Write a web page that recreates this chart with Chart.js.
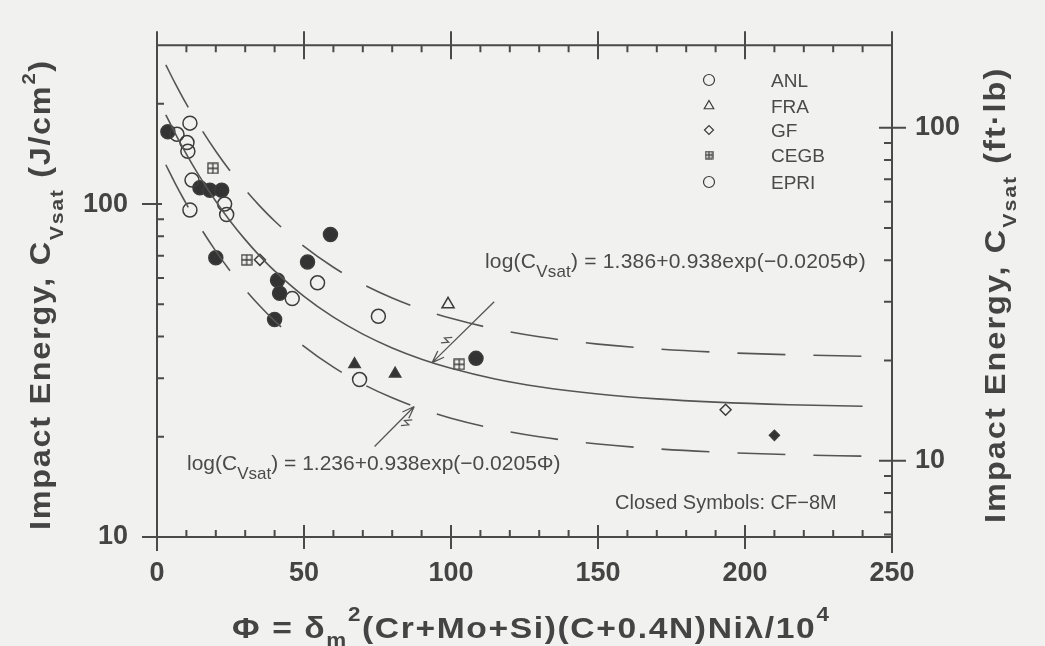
<!DOCTYPE html>
<html lang="en">
<head>
<meta charset="UTF-8">
<title>Saturation impact energy vs aging parameter</title>
<script src="https://cdn.jsdelivr.net/npm/chart.js"></script>
<style>
  body { margin: 0; background: #f1f1ef; }
  canvas { display: block; }
</style>
</head>
<body>
<canvas id="cvChart" width="1045" height="646"></canvas>
<script>
// saturation impact energy Cvsat (J/cm2) against Phi, one array per source / symbol
const anlOpen    = [[6.8,162],[11.2,175],[10.2,153],[10.5,144],[11.9,118],[11.2,96],[23,100],[23.7,93],[46,52]];
const epriOpen   = [[54.6,58],[75.3,46],[68.9,29.7]];
const cf8mClosed = [[3.7,165],[14.6,112],[18,110],[22,110],[20,69],[41,59],[41.7,54],[40,45],[51.2,67],[59,81],[108.5,34.4]];
const fraOpen    = [[99,50]];
const fraClosed  = [[67.2,33],[81,30.9]];
const gfOpen     = [[35,68],[193.4,24.1]];
const gfClosed   = [[210,20.2]];
const cegbPts    = [[19,128],[30.5,68],[102.8,33]];

// log(Cvsat) = a + 0.938 exp(-0.0205 Phi); a = upper bound, mean, lower bound
const fitA = [1.536, 1.386, 1.236];
const fitB = 0.938;
const fitK = 0.0205;
const phiSteps = [3,6,9,12,15,20,25,30,35,40,50,60,70,80,90,100,115,130,150,170,190,215,240];

const xTicks = [0, 50, 100, 150, 200, 250];
const xMinor = [10,20,30,40,60,70,80,90,110,120,130,140,160,170,180,190,210,220,230,240];
const yTicks = [10, 100];
const yMinor = [20,30,40,50,60,70,80,90,200];
const ftlbTicks = [10, 100];
const ftlbMinor = [6,7,8,9,20,30,40,50,60,70,80,90];
const JCM2_PER_FTLB = 1.3558 / 0.8;

const legendNames = ['ANL', 'FRA', 'GF', 'CEGB', 'EPRI'];

const FONT = '"Liberation Sans", Arial, sans-serif';
const INK = '#3c3c3c';
const TXT = '#4a4a4a';
const BG = '#f1f1ef';

const fitY = (a, phi) => Math.pow(10, a + fitB * Math.exp(-fitK * phi));
const pts = arr => arr.map(([x, y]) => ({x, y}));

// square with a cross for the CEGB points
function cegbSymbol(size) {
  const c = document.createElement('canvas');
  c.width = size; c.height = size;
  const g = c.getContext('2d');
  g.strokeStyle = INK; g.lineWidth = 1.3;
  g.strokeRect(1, 1, size - 2, size - 2);
  g.beginPath();
  g.moveTo(size / 2, 1); g.lineTo(size / 2, size - 1);
  g.moveTo(1, size / 2); g.lineTo(size - 1, size / 2);
  g.stroke();
  return c;
}
const cegbBig = cegbSymbol(12);
const cegbSmall = cegbSymbol(9);

function markerSet(data, style, r, filled) {
  return {
    data: pts(data), pointStyle: style, pointRadius: r,
    borderColor: INK, borderWidth: 1.5,
    backgroundColor: filled ? '#333' : 'rgba(0,0,0,0)',
    showLine: false
  };
}

function fitSet(a, dashed) {
  return {
    data: phiSteps.map(p => ({x: p, y: fitY(a, p)})),
    showLine: true, pointRadius: 0, borderColor: '#555', borderWidth: 1.6,
    borderDash: dashed ? [48, 28] : [], tension: 0.3, cubicInterpolationMode: 'monotone'
  };
}

// rich text: runs with their own size and baseline shift (sub/superscripts),
// optionally stretched along the baseline for the wide title lettering
function rich(ctx, parts, x, y, spacing, stretch) {
  ctx.save();
  ctx.translate(x, y);
  ctx.scale(stretch || 1, 1);
  let cx = 0;
  for (const p of parts) {
    ctx.font = `${p.w || 'normal'} ${p.s}px ${FONT}`;
    ctx.letterSpacing = (p.ls != null ? p.ls : spacing) + 'px';
    ctx.fillText(p.t, cx, p.dy || 0);
    cx += ctx.measureText(p.t).width;
  }
  ctx.restore();
}

function arrow(ctx, x1, y1, x2, y2) {
  const ang = Math.atan2(y2 - y1, x2 - x1);
  ctx.beginPath();
  ctx.moveTo(x1, y1); ctx.lineTo(x2, y2);
  for (const d of [0.35, -0.35]) {
    ctx.moveTo(x2, y2);
    ctx.lineTo(x2 - 13 * Math.cos(ang + d), y2 - 13 * Math.sin(ang + d));
  }
  // small break mark beside the shaft
  const mx = x2 + (x1 - x2) * 0.3, my = y2 + (y1 - y2) * 0.3;
  const nx = -Math.sin(ang), ny = Math.cos(ang);
  const ux = Math.cos(ang), uy = Math.sin(ang);
  ctx.moveTo(mx + nx * 4 - ux * 6, my + ny * 4 - uy * 6);
  ctx.lineTo(mx + nx * 9, my + ny * 9);
  ctx.lineTo(mx + nx * 3, my + ny * 3);
  ctx.lineTo(mx + nx * 8 + ux * 6, my + ny * 8 + uy * 6);
  ctx.stroke();
}

// arrows from the equation labels to the curves they describe
const arrowNotes = [
  {from: [114.7, 50.9], phi: 93.6, fit: 1},
  {from: [74, 18.7], phi: 87.5, fit: 2}
];

const decor = {
  id: 'decor',
  beforeDraw(chart) {
    const ctx = chart.ctx;
    ctx.save();
    ctx.fillStyle = BG;
    ctx.fillRect(0, 0, chart.width, chart.height);
    ctx.restore();
  },
  afterDraw(chart) {
    const ctx = chart.ctx;
    const {x, y, y2} = chart.scales;
    const {left, right, top, bottom} = chart.chartArea;
    ctx.save();
    ctx.strokeStyle = '#4a4a4a';
    ctx.lineWidth = 2;
    ctx.lineCap = 'butt';
    ctx.beginPath();
    // frame, side axes run a little past top and bottom
    ctx.moveTo(left, top - 14); ctx.lineTo(left, bottom + 14);
    ctx.moveTo(right, top - 14); ctx.lineTo(right, bottom + 16);
    ctx.moveTo(left, top); ctx.lineTo(right, top);
    ctx.moveTo(left, bottom); ctx.lineTo(right, bottom);
    // x ticks, bottom and top
    for (const v of xMinor) {
      const px = x.getPixelForValue(v);
      ctx.moveTo(px, bottom); ctx.lineTo(px, bottom - 7);
      ctx.moveTo(px, top); ctx.lineTo(px, top + 7);
    }
    for (const v of xTicks) {
      const px = x.getPixelForValue(v);
      ctx.moveTo(px, bottom - 12); ctx.lineTo(px, bottom + 12);
      ctx.moveTo(px, top - 14); ctx.lineTo(px, top + 14);
    }
    // left axis
    for (const v of yMinor) {
      const py = y.getPixelForValue(v);
      ctx.moveTo(left, py); ctx.lineTo(left + 7, py);
    }
    for (const v of yTicks) {
      const py = y.getPixelForValue(v);
      ctx.moveTo(left - 15, py); ctx.lineTo(left + 5, py);
    }
    // right axis in ft-lb
    for (const v of ftlbMinor) {
      const py = y2.getPixelForValue(v);
      ctx.moveTo(right, py); ctx.lineTo(right - 8, py);
    }
    for (const v of ftlbTicks) {
      const py = y2.getPixelForValue(v);
      ctx.moveTo(right - 13, py); ctx.lineTo(right + 14, py);
    }
    ctx.stroke();

    // arrows
    ctx.lineWidth = 1.3;
    ctx.strokeStyle = '#555';
    for (const n of arrowNotes) {
      arrow(ctx, x.getPixelForValue(n.from[0]), y.getPixelForValue(n.from[1]),
        x.getPixelForValue(n.phi), y.getPixelForValue(fitY(fitA[n.fit], n.phi)));
    }

    // legend, open symbols
    const rows = [80, 106, 130, 155, 182];
    const lx = 709;
    ctx.lineWidth = 1.2;
    ctx.strokeStyle = INK;
    ctx.fillStyle = BG;
    const H = Chart.helpers;
    H.drawPoint(ctx, {pointStyle: 'circle', radius: 5.5, borderWidth: 1.2}, lx, rows[0]);
    H.drawPoint(ctx, {pointStyle: 'triangle', radius: 5.5, borderWidth: 1.2}, lx, rows[1]);
    H.drawPoint(ctx, {pointStyle: 'rectRot', radius: 4.5, borderWidth: 1.2}, lx, rows[2]);
    ctx.drawImage(cegbSmall, lx - 4.5, rows[3] - 4.5);
    H.drawPoint(ctx, {pointStyle: 'circle', radius: 5.5, borderWidth: 1.2}, lx, rows[4]);
    ctx.fillStyle = TXT;
    ctx.textBaseline = 'alphabetic';
    ctx.font = `19px ${FONT}`;
    legendNames.forEach((nm, i) => ctx.fillText(nm, 771, rows[i] + 7));

    // equation labels and note
    rich(ctx, [{t: 'log(C', s: 21}, {t: 'Vsat', s: 17, dy: 9}, {t: ') = 1.386+0.938exp(\u22120.0205\u03A6)', s: 21}], 485, 268, 0.2);
    rich(ctx, [{t: 'log(C', s: 21}, {t: 'Vsat', s: 17, dy: 9}, {t: ') = 1.236+0.938exp(\u22120.0205\u03A6)', s: 21}], 187, 470, 0);
    ctx.font = `20px ${FONT}`;
    ctx.fillText('Closed Symbols: CF\u22128M', 615, 509);

    // axis titles
    ctx.fillStyle = '#444';
    const leftParts = [{t: 'Impact Energy, C', s: 29, w: 'bold'}, {t: 'Vsat', s: 19, w: 'bold', dy: 13},
      {t: ' (J/cm', s: 29, w: 'bold'}, {t: '2', s: 18, w: 'bold', dy: -15}, {t: ')', s: 29, w: 'bold'}];
    ctx.save();
    ctx.translate(50, 530);
    ctx.rotate(-Math.PI / 2);
    rich(ctx, leftParts, 0, 0, 1.5, 1.12);
    ctx.restore();

    const rightParts = [{t: 'Impact Energy, C', s: 29, w: 'bold'}, {t: 'Vsat', s: 19, w: 'bold', dy: 11},
      {t: ' (ft\u00B7lb)', s: 29, w: 'bold'}];
    ctx.save();
    ctx.translate(1005, 523);
    ctx.rotate(-Math.PI / 2);
    rich(ctx, rightParts, 0, 0, 1.8, 1.12);
    ctx.restore();

    rich(ctx, [{t: '\u03A6 = \u03B4', s: 30, w: 'bold'}, {t: 'm', s: 20, w: 'bold', dy: 9},
      {t: '2', s: 20, w: 'bold', dy: -17}, {t: '(Cr+Mo+Si)(C+0.4N)Ni\u03BB/10', s: 30, w: 'bold'},
      {t: '4', s: 20, w: 'bold', dy: -17}], 232, 638, 1.45, 1.12);
    ctx.restore();
  }
};

const tickFont = {family: FONT, size: 27, weight: 'bold'};

new Chart(document.getElementById('cvChart'), {
  type: 'scatter',
  data: {
    datasets: [
      fitSet(fitA[0], true),
      fitSet(fitA[1], false),
      fitSet(fitA[2], true),
      markerSet(anlOpen, 'circle', 7, false),
      markerSet(epriOpen, 'circle', 7, false),
      markerSet(cf8mClosed, 'circle', 7, true),
      markerSet(fraOpen, 'triangle', 7, false),
      markerSet(fraClosed, 'triangle', 6.5, true),
      markerSet(gfOpen, 'rectRot', 5.5, false),
      markerSet(gfClosed, 'rectRot', 5, true),
      markerSet(cegbPts, cegbBig, 6, false)
    ]
  },
  plugins: [decor],
  options: {
    responsive: false,
    animation: false,
    devicePixelRatio: 1,
    events: [],
    layout: {padding: {top: 28, left: 0, right: 0, bottom: 0}},
    plugins: {legend: {display: false}, tooltip: {enabled: false}},
    scales: {
      x: {
        type: 'linear', min: 0, max: 250,
        grid: {display: false, drawTicks: false}, border: {display: false},
        ticks: {font: tickFont, color: '#444', padding: 20, maxRotation: 0, autoSkip: false},
        afterBuildTicks: s => { s.ticks = xTicks.map(v => ({value: v})); },
        afterFit: s => { s.height = 109; }
      },
      y: {
        type: 'logarithmic', position: 'left', min: 10, max: 300,
        grid: {display: false, drawTicks: false}, border: {display: false},
        ticks: {font: tickFont, color: '#444', padding: 29, autoSkip: false, callback: v => String(v)},
        afterBuildTicks: s => { s.ticks = yTicks.map(v => ({value: v})); },
        afterFit: s => { s.width = 157; }
      },
      y2: {
        type: 'logarithmic', position: 'right', min: 10 / JCM2_PER_FTLB, max: 300 / JCM2_PER_FTLB,
        grid: {display: false, drawTicks: false}, border: {display: false},
        ticks: {font: tickFont, color: '#444', padding: 23, autoSkip: false, callback: v => String(v)},
        afterBuildTicks: s => { s.ticks = ftlbTicks.map(v => ({value: v})); },
        afterFit: s => { s.width = 153; }
      }
    }
  }
});
</script>
</body>
</html>
